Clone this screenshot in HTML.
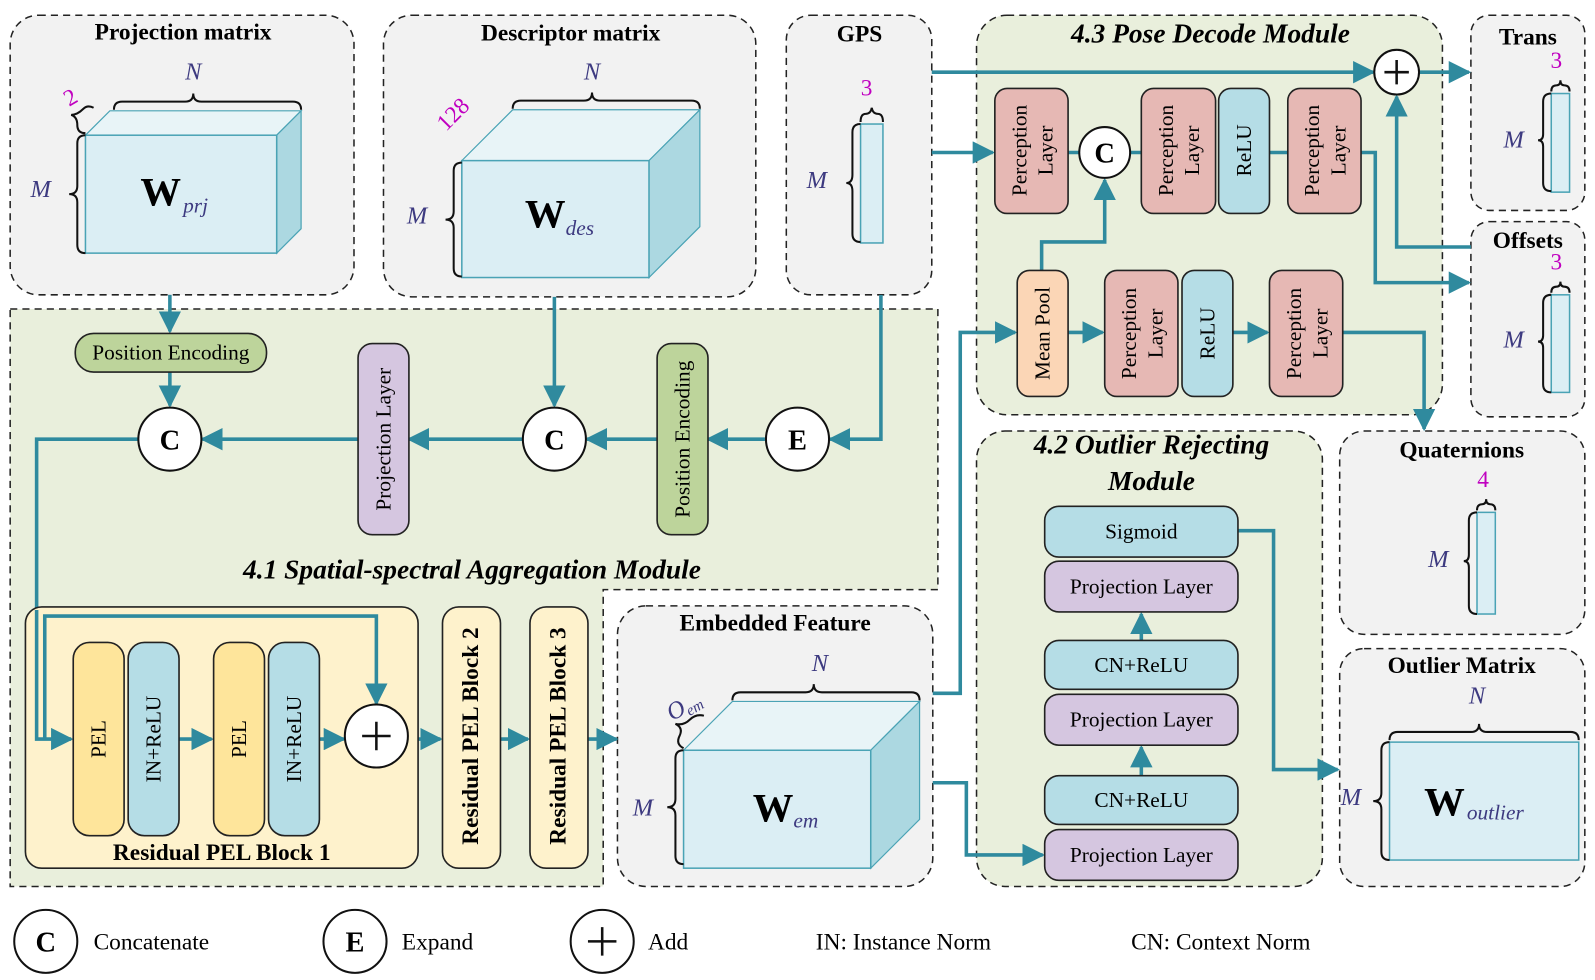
<!DOCTYPE html>
<html><head><meta charset="utf-8"><style>
html,body{margin:0;padding:0;background:#fff}
svg{display:block}
text{font-family:"Liberation Serif",serif}
.t{font-weight:bold;font-size:23px;text-anchor:middle}
.mt{font-weight:bold;font-style:italic;font-size:27px;text-anchor:middle}
.lb{font-size:21px;text-anchor:middle;dominant-baseline:central}
.dim{font-style:italic;font-size:24px;fill:#3d3a80;text-anchor:middle}
.mg{font-size:23px;fill:#c000c0;text-anchor:middle}
.a{fill:none;stroke:#2f8a9e;stroke-width:3.5}
.bx{stroke:#222;stroke-width:1.6}
.dash{stroke:#222;stroke-width:1.5;stroke-dasharray:7 5}
.br{fill:none;stroke:#111;stroke-width:2}
</style></head><body>
<svg width="1595" height="980" viewBox="0 0 1568 964" preserveAspectRatio="none" xmlns="http://www.w3.org/2000/svg">
<defs>
<marker id="A" viewBox="0 0 10 10" refX="9" refY="5" markerWidth="22" markerHeight="22" markerUnits="userSpaceOnUse" orient="auto">
<path d="M0,0 L10,5 L0,10 z" fill="#2f8a9e"/></marker>
</defs>

<rect x="10" y="15" width="338" height="275" rx="28" fill="#f2f2f2" class="dash"/>
<rect x="377" y="15" width="366" height="277" rx="28" fill="#f2f2f2" class="dash"/>
<rect x="773" y="15" width="143" height="275" rx="24" fill="#f2f2f2" class="dash"/>
<rect x="960" y="15" width="458" height="393" rx="30" fill="#e9efdc" class="dash"/>
<rect x="1446" y="15" width="112" height="192" rx="18" fill="#f2f2f2" class="dash"/>
<rect x="1446" y="218" width="112" height="192" rx="18" fill="#f2f2f2" class="dash"/>
<rect x="1317" y="424" width="241" height="200" rx="24" fill="#f2f2f2" class="dash"/>
<rect x="1317" y="638" width="241" height="234" rx="24" fill="#f2f2f2" class="dash"/>
<path d="M10,304 H922 V580 H593 V872 H10 Z" fill="#e9efdc" class="dash"/>
<rect x="607" y="596" width="310" height="276" rx="28" fill="#f2f2f2" class="dash"/>
<rect x="960" y="424" width="340" height="448" rx="28" fill="#e9efdc" class="dash"/>

<text class="t" x="180" y="39">Projection matrix</text>
<text class="t" x="561" y="40">Descriptor matrix</text>
<text class="t" x="845" y="41">GPS</text>
<text class="mt" x="1190" y="42">4.3 Pose Decode Module</text>
<text class="t" x="1502" y="44">Trans</text>
<text class="t" x="1502" y="244">Offsets</text>
<text class="t" x="1437" y="450">Quaternions</text>
<text class="t" x="1437" y="662">Outlier Matrix</text>
<text class="t" x="762" y="620">Embedded Feature</text>
<text class="mt" x="1132" y="446">4.2 Outlier Rejecting</text>
<text class="mt" x="1132" y="482">Module</text>
<text class="mt" x="464" y="569">4.1 Spatial-spectral Aggregation Module</text>

<polygon points="84,133 108,109 296,109 272,133" fill="#e8f4f7" stroke="#4aa3b5" stroke-width="1.2"/>
<polygon points="272,133 296,109 296,225 272,249" fill="#acd8e1" stroke="#4aa3b5" stroke-width="1.2"/>
<rect x="84" y="133" width="188" height="116" fill="#dbeef4" stroke="#4aa3b5" stroke-width="1.5"/>
<text x="138" y="202" font-size="40" font-weight="bold">W</text><text x="180" y="209" class="dim" style="text-anchor:start;font-size:21px">prj</text>
<path class="br" d="M112,108 q0,-8 8,-8 h62 q8,0 8,-8 q0,8 8,8 h90 q8,0 8,8"/>
<path class="br" d="M84,131 q-8,0 -8,-8 q0,-8 -6,-10 q6,0 12,-6 q4,-4 10,-1"/>
<path class="br" d="M84,133 q-8,0 -8,8 v42 q0,8 -8,8 q8,0 8,8 v42 q0,8 8,8"/>
<text class="dim" x="190" y="78">N</text>
<text class="dim" x="40" y="194">M</text>
<text class="mg" x="70" y="103" transform="rotate(-30 70 97)">2</text>

<polygon points="454,158 504,108 688,108 638,158" fill="#e8f4f7" stroke="#4aa3b5" stroke-width="1.2"/>
<polygon points="638,158 688,108 688,223 638,273" fill="#acd8e1" stroke="#4aa3b5" stroke-width="1.2"/>
<rect x="454" y="158" width="184" height="115" fill="#dbeef4" stroke="#4aa3b5" stroke-width="1.5"/>
<text x="516" y="224" font-size="40" font-weight="bold">W</text><text x="556" y="231" class="dim" style="text-anchor:start;font-size:21px">des</text>
<path class="br" d="M504,107 q0,-8 8,-8 h62 q8,0 8,-8 q0,8 8,8 h90 q8,0 8,8"/>
<path class="br" d="M454,160 q-8,0 -8,8 v40 q0,8 -8,8 q8,0 8,8 v40 q0,8 8,8"/>
<text class="dim" x="582" y="78">N</text>
<text class="dim" x="410" y="220">M</text>
<text class="mg" x="445" y="120" transform="rotate(-45 445 112)">128</text>

<rect x="846" y="122" width="22" height="117" fill="#dbeef4" stroke="#4aa3b5" stroke-width="1.5"/>
<path class="br" d="M846,120 q0,-8 5,-8 q5,0 6,-6 q1,6 6,6 q5,0 5,8"/>
<path class="br" d="M846,122 q-8,0 -8,8 v42 q0,8 -6,8 q6,0 6,8 v42 q0,8 8,8"/>
<text class="mg" x="852" y="94">3</text>
<text class="dim" x="803" y="185">M</text>

<rect x="1525" y="92" width="18" height="97" fill="#dbeef4" stroke="#4aa3b5" stroke-width="1.5"/>
<path class="br" d="M1525,92 q-8,0 -8,8 v32 q0,6 -5,6 q5,0 5,6 v36 q0,8 8,8"/><path class="br" d="M1525,90 q0,-6 5,-6 q4,0 4,-5 q0,5 4,5 q5,0 5,6"/>
<text class="mg" x="1530" y="67">3</text><text class="dim" x="1488" y="145">M</text>
<rect x="1525" y="290" width="18" height="96" fill="#dbeef4" stroke="#4aa3b5" stroke-width="1.5"/>
<path class="br" d="M1525,290 q-8,0 -8,8 v32 q0,6 -5,6 q5,0 5,6 v36 q0,8 8,8"/><path class="br" d="M1525,288 q0,-6 5,-6 q4,0 4,-5 q0,5 4,5 q5,0 5,6"/>
<text class="mg" x="1530" y="265">3</text><text class="dim" x="1488" y="342">M</text>
<rect x="1452" y="504" width="18" height="100" fill="#dbeef4" stroke="#4aa3b5" stroke-width="1.5"/>
<path class="br" d="M1452,504 q-8,0 -8,8 v34 q0,6 -5,6 q5,0 5,6 v38 q0,8 8,8"/><path class="br" d="M1452,502 q0,-6 5,-6 q4,0 4,-5 q0,5 4,5 q5,0 5,6"/>
<text class="mg" x="1458" y="479">4</text><text class="dim" x="1414" y="558">M</text>

<rect x="1366" y="730" width="186" height="116" fill="#dbeef4" stroke="#4aa3b5" stroke-width="1.5"/>
<path class="br" d="M1366,728 q0,-8 8,-8 h72 q8,0 8,-8 q0,8 8,8 h82 q8,0 8,8"/>
<path class="br" d="M1366,730 q-8,0 -8,8 v42 q0,8 -8,8 q8,0 8,8 v42 q0,8 8,8"/>
<text class="dim" x="1452" y="692">N</text><text class="dim" x="1328" y="792">M</text>
<text x="1400" y="802" font-size="40" font-weight="bold">W</text><text x="1442" y="806" class="dim" style="text-anchor:start;font-size:21px">outlier</text>

<polygon points="672,738 720,690 904,690 856,738" fill="#e8f4f7" stroke="#4aa3b5" stroke-width="1.2"/>
<polygon points="856,738 904,690 904,806 856,854" fill="#acd8e1" stroke="#4aa3b5" stroke-width="1.2"/>
<rect x="672" y="738" width="184" height="116" fill="#dbeef4" stroke="#4aa3b5" stroke-width="1.5"/>
<text x="740" y="808" font-size="40" font-weight="bold">W</text><text x="780" y="814" class="dim" style="text-anchor:start;font-size:21px">em</text>
<path class="br" d="M720,689 q0,-8 8,-8 h64 q8,0 8,-8 q0,8 8,8 h88 q8,0 8,8"/>
<path class="br" d="M672,738 q-8,0 -8,8 v40 q0,8 -8,8 q8,0 8,8 v40 q0,8 8,8"/>
<path class="br" d="M672,736 q-8,-4 -4,-12 q4,-8 -4,-12 q8,2 14,-4 q6,-6 14,-4"/>
<text class="dim" x="806" y="660">N</text><text class="dim" x="632" y="802">M</text>
<text class="dim" x="672" y="702" transform="rotate(-30 672 694)">O<tspan font-size="15" dy="4">em</tspan></text>

<g class="a">
<path d="M167,290 V326" marker-end="url(#A)"/>
<path d="M167,366 V399" marker-end="url(#A)"/>
<path d="M352,432 H199" marker-end="url(#A)"/>
<path d="M514,432 H402" marker-end="url(#A)"/>
<path d="M646,432 H577" marker-end="url(#A)"/>
<path d="M752,432 H696" marker-end="url(#A)"/>
<path d="M866,290 V432 H816" marker-end="url(#A)"/>
<path d="M545,292 V399" marker-end="url(#A)"/>
<path d="M136,432 H36 V727 H70" marker-end="url(#A)"/>
<path d="M401,727 H433" marker-end="url(#A)"/>
<path d="M492,727 H519" marker-end="url(#A)"/>
<path d="M578,727 H606" marker-end="url(#A)"/>
<path d="M916,150 H976" marker-end="url(#A)"/>
<path d="M916,71 H1350" marker-end="url(#A)"/>
<path d="M1395,71 H1444" marker-end="url(#A)"/>
<path d="M1050,150 H1061 M1111,150 H1122 M1248,150 H1266"/>
<path d="M1024,266 V238 H1086 V177" marker-end="url(#A)"/>
<path d="M1338,150 H1352 V278 H1444" marker-end="url(#A)"/>
<path d="M1446,243 H1373 V95" marker-end="url(#A)"/>
<path d="M1050,327 H1084" marker-end="url(#A)"/>
<path d="M1212,327 H1246" marker-end="url(#A)"/>
<path d="M1320,327 H1400 V422" marker-end="url(#A)"/>
<path d="M917,682 H944 V327 H998" marker-end="url(#A)"/>
<path d="M917,770 H950 V841 H1025" marker-end="url(#A)"/>
<path d="M1122,763 V735" marker-end="url(#A)"/>
<path d="M1122,630 V604" marker-end="url(#A)"/>
<path d="M1217,522 H1252 V757 H1315" marker-end="url(#A)"/>
</g>

<rect x="74" y="328" width="188" height="38" rx="18" fill="#bdd49b" class="bx"/>
<text class="lb" x="168" y="347">Position Encoding</text>
<rect x="352" y="338" width="50" height="188" rx="14" fill="#d5c6e0" class="bx"/>
<text class="lb" transform="translate(377 432) rotate(-90)">Projection Layer</text>
<rect x="646" y="338" width="50" height="188" rx="14" fill="#bdd49b" class="bx"/>
<text class="lb" transform="translate(671 432) rotate(-90)">Position Encoding</text>

<rect x="25" y="597" width="386" height="257" rx="16" fill="#fef2cc" class="bx"/>
<path class="a" d="M44,727 V606 H370 V692" marker-end="url(#A)"/>
<path class="a" d="M36,600 V727 H70" marker-end="url(#A)"/>
<path class="a" d="M176,727 H208" marker-end="url(#A)"/>
<path class="a" d="M314,727 H338" marker-end="url(#A)"/>
<rect x="72" y="632" width="50" height="190" rx="16" fill="#fee59b" class="bx"/>
<rect x="126" y="632" width="50" height="190" rx="16" fill="#b5dde6" class="bx"/>
<rect x="210" y="632" width="50" height="190" rx="16" fill="#fee59b" class="bx"/>
<rect x="264" y="632" width="50" height="190" rx="16" fill="#b5dde6" class="bx"/>
<text class="lb" transform="translate(97 727) rotate(-90)">PEL</text>
<text class="lb" transform="translate(151 727) rotate(-90)">IN+ReLU</text>
<text class="lb" transform="translate(235 727) rotate(-90)">PEL</text>
<text class="lb" transform="translate(289 727) rotate(-90)">IN+ReLU</text>
<text class="t" x="218" y="846">Residual PEL Block 1</text>
<rect x="435" y="597" width="57" height="257" rx="16" fill="#fef2cc" class="bx"/>
<rect x="521" y="597" width="57" height="257" rx="16" fill="#fef2cc" class="bx"/>
<text class="t" style="dominant-baseline:central" transform="translate(463 724) rotate(-90)">Residual PEL Block 2</text>
<text class="t" style="dominant-baseline:central" transform="translate(549 724) rotate(-90)">Residual PEL Block 3</text>

<g fill="#fff" stroke="#111" stroke-width="2">
<circle cx="167" cy="432" r="31"/><circle cx="545" cy="432" r="31"/><circle cx="784" cy="432" r="31"/>
<circle cx="370" cy="724" r="31"/><circle cx="1373" cy="71" r="22"/><circle cx="1086" cy="150" r="25"/>
<circle cx="45" cy="926" r="31"/><circle cx="349" cy="926" r="31"/><circle cx="592" cy="926" r="31"/>
</g>
<g font-weight="bold" font-size="28" text-anchor="middle">
<text x="167" y="442">C</text><text x="545" y="442">C</text><text x="784" y="442">E</text>
<text x="1086" y="160">C</text><text x="45" y="936">C</text><text x="349" y="936">E</text>
</g>
<g stroke="#111" stroke-width="2.5">
<path d="M370,710 V738 M356,724 H384"/><path d="M1373,59 V83 M1361,71 H1385"/><path d="M592,912 V940 M578,926 H606"/>
</g>

<g class="bx">
<rect x="978" y="87" width="72" height="123" rx="12" fill="#e6b8b4"/>
<rect x="1122" y="87" width="73" height="123" rx="12" fill="#e6b8b4"/>
<rect x="1198" y="87" width="50" height="123" rx="12" fill="#b5dde6"/>
<rect x="1266" y="87" width="72" height="123" rx="12" fill="#e6b8b4"/>
<rect x="1000" y="266" width="50" height="124" rx="12" fill="#fbd6b6"/>
<rect x="1086" y="266" width="72" height="124" rx="12" fill="#e6b8b4"/>
<rect x="1162" y="266" width="50" height="124" rx="12" fill="#b5dde6"/>
<rect x="1248" y="266" width="72" height="124" rx="12" fill="#e6b8b4"/>
</g>
<g class="lb">
<text transform="translate(1014 148) rotate(-90)"><tspan x="0" dy="-12">Perception</tspan><tspan x="0" dy="26">Layer</tspan></text>
<text transform="translate(1158 148) rotate(-90)"><tspan x="0" dy="-12">Perception</tspan><tspan x="0" dy="26">Layer</tspan></text>
<text transform="translate(1223 148) rotate(-90)">ReLU</text>
<text transform="translate(1302 148) rotate(-90)"><tspan x="0" dy="-12">Perception</tspan><tspan x="0" dy="26">Layer</tspan></text>
<text transform="translate(1025 328) rotate(-90)">Mean Pool</text>
<text transform="translate(1122 328) rotate(-90)"><tspan x="0" dy="-12">Perception</tspan><tspan x="0" dy="26">Layer</tspan></text>
<text transform="translate(1187 328) rotate(-90)">ReLU</text>
<text transform="translate(1284 328) rotate(-90)"><tspan x="0" dy="-12">Perception</tspan><tspan x="0" dy="26">Layer</tspan></text>
</g>

<g class="bx">
<rect x="1027" y="498" width="190" height="50" rx="14" fill="#b5dde6"/>
<rect x="1027" y="552" width="190" height="50" rx="14" fill="#d5c6e0"/>
<rect x="1027" y="630" width="190" height="48" rx="14" fill="#b5dde6"/>
<rect x="1027" y="683" width="190" height="50" rx="14" fill="#d5c6e0"/>
<rect x="1027" y="763" width="190" height="48" rx="14" fill="#b5dde6"/>
<rect x="1027" y="816" width="190" height="50" rx="14" fill="#d5c6e0"/>
</g>
<g class="lb">
<text x="1122" y="523">Sigmoid</text><text x="1122" y="577">Projection Layer</text>
<text x="1122" y="654">CN+ReLU</text><text x="1122" y="708">Projection Layer</text>
<text x="1122" y="787">CN+ReLU</text><text x="1122" y="841">Projection Layer</text>
</g>

<g font-size="23">
<text x="92" y="934">Concatenate</text><text x="395" y="934">Expand</text><text x="637" y="934">Add</text>
<text x="802" y="934">IN: Instance Norm</text><text x="1112" y="934">CN: Context Norm</text>
</g>
</svg>
</body></html>
